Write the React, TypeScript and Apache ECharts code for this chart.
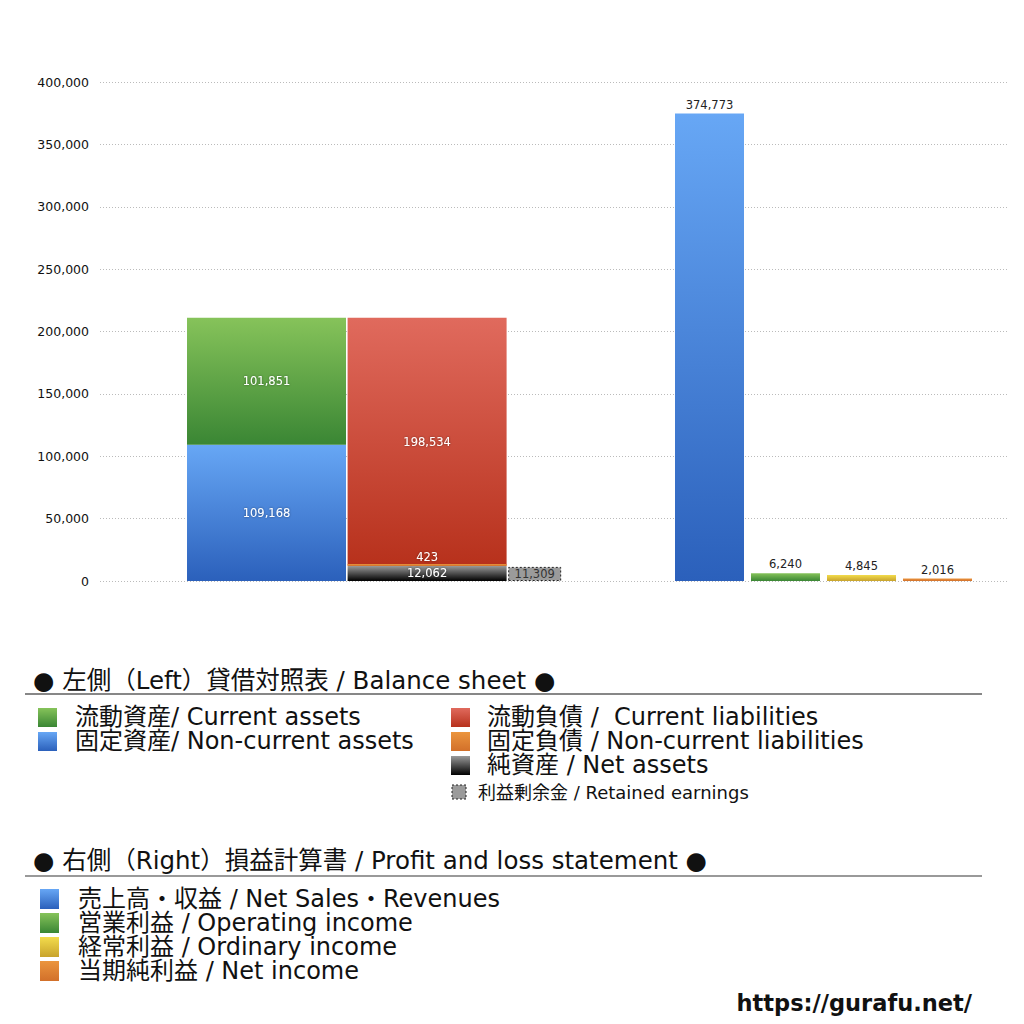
import React, { useEffect, useRef } from "react";
import * as echarts from "echarts";

// ---- data ----
const bsCategory = ["貸借対照表"];
const assetNames = ["固定資産", "流動資産"];
const assetValues = [109168, 101851];
const liabilityNames = ["純資産", "固定負債", "流動負債"];
const liabilityValues = [12062, 423, 198534];
const retainedName = "利益剰余金";
const retainedValues = [11309];
const plCategories = ["売上高・収益", "営業利益", "経常利益", "当期純利益"];
const plValues = [374773, 6240, 4845, 2016];
const yMin = 0;
const yMax = 400000;
const yInterval = 50000;

const bsLegendLeft = ["流動資産/ Current assets", "固定資産/ Non-current assets"];
const bsLegendRight = ["流動負債 /  Current liabilities", "固定負債 / Non-current liabilities", "純資産 / Net assets"];
const retainedLegend = "利益剰余金 / Retained earnings";
const plLegend = ["売上高・収益 / Net Sales・Revenues", "営業利益 / Operating income", "経常利益 / Ordinary income", "当期純利益 / Net income"];
const header1 = "● 左側（Left）貸借対照表 / Balance sheet ●";
const header2 = "● 右側（Right）損益計算書 / Profit and loss statement ●";
const siteUrl = "https://gurafu.net/";

const FONT = '"DejaVu Sans", "Noto Sans CJK JP", sans-serif';

const grad = (top: string, bottom: string) =>
  new echarts.graphic.LinearGradient(0, 0, 0, 1, [
    { offset: 0, color: top },
    { offset: 1, color: bottom },
  ]);
const gradObj = (top: string, bottom: string) => ({
  type: "linear",
  x: 0,
  y: 0,
  x2: 0,
  y2: 1,
  colorStops: [
    { offset: 0, color: top },
    { offset: 1, color: bottom },
  ],
});

const C = {
  blue: ["#67a7f5", "#2b60bb"],
  green: ["#86c35a", "#3a8634"],
  red: ["#e06a5d", "#b7311c"],
  black: ["#9a9a9a", "#000000"],
  orange: ["#eb953e", "#d2702a"],
  yellow: ["#f3dc4c", "#c8a32c"],
};

const fmt = (v: number) => v.toLocaleString("en-US");

export default function App() {
  const ref = useRef<HTMLDivElement>(null);
  useEffect(() => {
    document.body.style.margin = "0";
    const chart = echarts.init(ref.current!, null, { renderer: "svg" });

    const whiteLabel = {
      show: true,
      color: "#ffffff",
      fontSize: 11.5,
      fontFamily: FONT,
      textShadowColor: "rgba(0,0,0,0.45)",
      textShadowBlur: 2,
      formatter: (p: any) => fmt(p.value),
    };

    const bsCommon = {
      type: "bar",
      xAxisIndex: 1,
      yAxisIndex: 1,
      barWidth: 159,
      barGap: "1%",
    };

    const assetColors = [C.blue, C.green];
    const liabColors = [C.black, C.orange, C.red];

    const series: any[] = [];
    assetNames.forEach((n, i) => {
      series.push({
        ...bsCommon,
        name: n,
        stack: "assets",
        data: [assetValues[i]],
        itemStyle: { color: grad(assetColors[i][0], assetColors[i][1]) },
        label: { ...whiteLabel, position: "inside" },
      });
    });
    liabilityNames.forEach((n, i) => {
      const isThin = i === 1;
      series.push({
        ...bsCommon,
        name: n,
        stack: "liab",
        data: [liabilityValues[i]],
        barMinHeight: isThin ? 2 : 0,
        z: isThin ? 3 : 2,
        itemStyle: { color: grad(liabColors[i][0], liabColors[i][1]) },
        label: { ...whiteLabel, position: isThin ? "top" : "inside", distance: 1 },
      });
    });
    series.push({
      ...bsCommon,
      name: retainedName,
      stack: "re",
      barWidth: 53,
      data: retainedValues,
      itemStyle: { color: "#9b9b9b", borderColor: "#222", borderWidth: 1, borderType: [2, 2] },
      label: { show: true, position: "inside", color: "#333", fontSize: 11.5, fontFamily: FONT, formatter: (p: any) => fmt(p.value) },
    });

    const plColors = [C.blue, C.green, C.yellow, C.orange];
    series.push({
      type: "bar",
      name: "損益計算書",
      xAxisIndex: 2,
      yAxisIndex: 2,
      barWidth: 69,
      data: plValues.map((v, i) => ({ value: v, itemStyle: { color: grad(plColors[i][0], plColors[i][1]) } })),
      label: { show: true, position: "top", distance: 3, color: "#222", fontSize: 11.5, fontFamily: FONT, formatter: (p: any) => fmt(p.value) },
    });

    const hiddenY = { type: "value", min: yMin, max: yMax, interval: yInterval, show: false };

    // legend graphics
    const g: any[] = [];
    const txt = (text: string, x: number, y: number, size: number, extra: any = {}) => ({
      type: "text",
      x,
      y,
      style: {
        text,
        font: `${extra.weight || "normal"} ${size}px ${FONT}`,
        fill: extra.fill || "#111",
        align: extra.align || "left",
        verticalAlign: "middle",
        lineHeight: extra.lh || size,
      },
    });
    const sw = (x: number, y: number, w: number, h: number, fill: any, extra: any = {}) => ({
      type: "rect",
      shape: { x, y, width: w, height: h },
      style: { fill, ...extra },
    });

    g.push(txt(header1, 33, 680, 24.5));
    g.push({ type: "line", shape: { x1: 25, y1: 694, x2: 982, y2: 694 }, style: { stroke: "#111", lineWidth: 1.2 } });
    const leftSw = [C.green, C.blue];
    bsLegendLeft.forEach((t, i) => {
      const cy = 717 + i * 24;
      g.push(sw(38, cy - 9, 19, 19, gradObj(leftSw[i][0], leftSw[i][1])));
      g.push(txt(t, 75, cy, 24, { lh: 22 }));
    });
    const rightSw = [C.red, C.orange, C.black];
    bsLegendRight.forEach((t, i) => {
      const cy = 717 + i * 24;
      g.push(sw(451, cy - 9, 19, 19, gradObj(rightSw[i][0], rightSw[i][1])));
      g.push(txt(t, 487, cy, 24, { lh: 22 }));
    });
    g.push(sw(452, 785, 14, 14, "#9b9b9b", { stroke: "#222", lineWidth: 1, lineDash: [2, 2] }));
    g.push(txt(retainedLegend, 478, 792, 18, { lh: 18 }));

    g.push(txt(header2, 33, 860, 24.5));
    g.push({ type: "line", shape: { x1: 25, y1: 876, x2: 982, y2: 876 }, style: { stroke: "#777", lineWidth: 1.5 } });
    plLegend.forEach((t, i) => {
      const cy = 899 + i * 24;
      g.push(sw(40, cy - 10, 19, 20, gradObj(plColors[i][0], plColors[i][1])));
      g.push(txt(t, 78, cy, 24, { lh: 22 }));
    });
    g.push(txt(siteUrl, 972, 1003, 22.5, { weight: "bold", align: "right" }));

    chart.setOption({
      animation: false,
      backgroundColor: "#ffffff",
      grid: [
        { left: 100, right: 16, top: 82, bottom: 443 },
        { left: 100, width: 548.2, top: 82, bottom: 443 },
        { left: 671.5, width: 304, top: 82, bottom: 443 },
      ],
      xAxis: [
        { type: "value", gridIndex: 0, min: 0, max: 1, show: false },
        { type: "category", gridIndex: 1, data: bsCategory, show: false },
        { type: "category", gridIndex: 2, data: plCategories, show: false },
      ],
      yAxis: [
        {
          type: "value",
          gridIndex: 0,
          min: yMin,
          max: yMax,
          interval: yInterval,
          axisLine: { show: false },
          axisTick: { show: false },
          axisLabel: { color: "#111", fontSize: 12.5, fontFamily: FONT, margin: 11, formatter: (v: number) => fmt(v) },
          splitLine: { show: true, lineStyle: { color: "#bbbbbb", type: [1, 2], width: 1 } },
        },
        { ...hiddenY, gridIndex: 1 },
        { ...hiddenY, gridIndex: 2 },
      ],
      series,
      graphic: g,
    });
    return () => chart.dispose();
  }, []);
  return <div ref={ref} style={{ width: 1024, height: 1024 }} />;
}
